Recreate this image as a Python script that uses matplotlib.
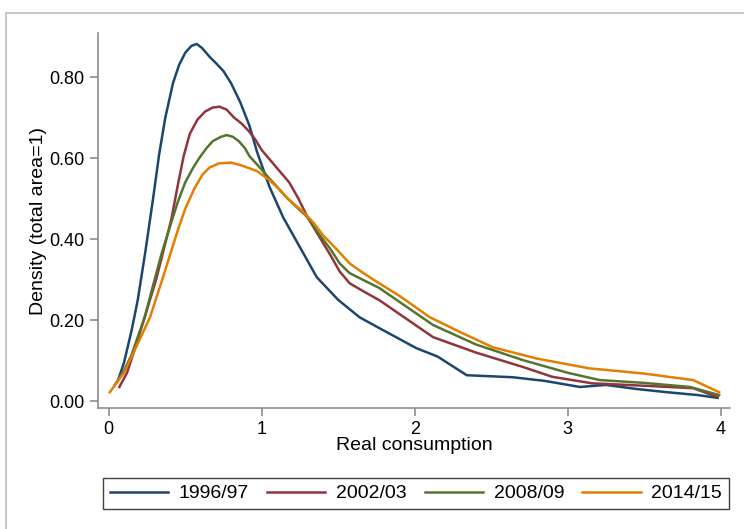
import matplotlib

matplotlib.use("Agg")
import matplotlib.pyplot as plt
from matplotlib.patches import Rectangle

plt.rcParams["font.family"] = ["Liberation Sans", "DejaVu Sans"]

labels = ["1996/97", "2002/03", "2008/09", "2014/15"]
colors = ["#1a476f", "#90353b", "#55752f", "#e37e00"]

x_9697 = [0.06, 0.10, 0.15, 0.19, 0.24, 0.29, 0.33, 0.37, 0.42, 0.46, 0.50, 0.54,
          0.575, 0.61, 0.66, 0.70, 0.75, 0.80, 0.86, 0.92, 0.97, 1.05, 1.14, 1.25,
          1.36, 1.50, 1.64, 1.77, 2.01, 2.15, 2.34, 2.64, 2.85, 3.08, 3.25, 3.45,
          3.65, 3.85, 3.98]
y_9697 = [0.05, 0.095, 0.175, 0.25, 0.37, 0.50, 0.61, 0.70, 0.785, 0.83, 0.86, 0.877,
          0.882, 0.872, 0.85, 0.835, 0.815, 0.785, 0.738, 0.68, 0.615, 0.53, 0.454, 0.38,
          0.306, 0.25, 0.207, 0.18, 0.131, 0.11, 0.064, 0.059, 0.05, 0.035, 0.04, 0.03,
          0.022, 0.015, 0.008]

x_0203 = [0.07, 0.12, 0.18, 0.235, 0.31, 0.37, 0.41, 0.45, 0.49, 0.53, 0.58, 0.63,
          0.68, 0.725, 0.77, 0.82, 0.87, 0.92, 0.96, 1.00, 1.09, 1.18, 1.24, 1.30,
          1.37, 1.45, 1.51, 1.575, 1.67, 1.77, 2.12, 2.40, 2.71, 2.90, 3.16, 3.50,
          3.82, 3.98]
y_0203 = [0.035, 0.07, 0.14, 0.207, 0.30, 0.39, 0.45, 0.53, 0.605, 0.66, 0.695, 0.715,
          0.725, 0.727, 0.72, 0.70, 0.685, 0.665, 0.645, 0.62, 0.58, 0.54, 0.50, 0.454,
          0.41, 0.36, 0.32, 0.291, 0.27, 0.249, 0.158, 0.12, 0.084, 0.06, 0.044, 0.038,
          0.032, 0.01]

x_0809 = [0.04, 0.10, 0.15, 0.235, 0.30, 0.35, 0.40, 0.45, 0.50, 0.55, 0.595, 0.64,
          0.68, 0.73, 0.77, 0.81, 0.85, 0.89, 0.92, 0.98, 1.05, 1.11, 1.17, 1.24,
          1.30, 1.37, 1.45, 1.51, 1.575, 1.67, 1.77, 2.12, 2.40, 2.71, 3.00, 3.21,
          3.50, 3.80, 3.99]
y_0809 = [0.04, 0.075, 0.115, 0.207, 0.30, 0.37, 0.43, 0.49, 0.54, 0.575, 0.602, 0.625,
          0.642, 0.652, 0.657, 0.653, 0.642, 0.625, 0.605, 0.58, 0.55, 0.525, 0.50, 0.475,
          0.454, 0.415, 0.375, 0.34, 0.316, 0.298, 0.279, 0.188, 0.14, 0.101, 0.07, 0.052,
          0.045, 0.035, 0.015]

x_1415 = [0.007, 0.10, 0.20, 0.27, 0.35, 0.40, 0.45, 0.50, 0.56, 0.614, 0.66, 0.72,
          0.80, 0.86, 0.92, 0.97, 1.05, 1.11, 1.17, 1.27, 1.34, 1.40, 1.49, 1.575,
          1.65, 1.73, 1.90, 2.10, 2.30, 2.51, 2.80, 3.14, 3.50, 3.82, 3.99]
y_1415 = [0.022, 0.07, 0.15, 0.207, 0.30, 0.36, 0.42, 0.475, 0.525, 0.56, 0.577, 0.587,
          0.589, 0.583, 0.575, 0.568, 0.546, 0.525, 0.50, 0.468, 0.44, 0.41, 0.375, 0.34,
          0.32, 0.30, 0.26, 0.207, 0.17, 0.133, 0.105, 0.081, 0.068, 0.052, 0.022]

series = [(x_9697, y_9697), (x_0203, y_0203), (x_0809, y_0809), (x_1415, y_1415)]

fig = plt.figure(figsize=(7.44, 5.29), dpi=100)
ax = fig.add_axes([0.1317, 0.2287, 0.8493, 0.7089])

for (xs, ys), lab, col in zip(series, labels, colors):
    ax.plot(xs, ys, color=col, linewidth=1.8, label=lab)

ax.set_xlim(-0.07, 4.06)
ax.set_ylim(-0.017, 0.909)
ax.set_xticks([0, 1, 2, 3, 4])
ax.set_yticks([0, 0.2, 0.4, 0.6, 0.8])
ax.set_yticklabels(["0.00", "0.20", "0.40", "0.60", "0.80"])
for s in ["top", "right"]:
    ax.spines[s].set_visible(False)
for s in ["left", "bottom"]:
    ax.spines[s].set_color("#8c8c8c")
    ax.spines[s].set_linewidth(1.2)
ax.tick_params(colors="#8c8c8c", labelcolor="black", length=6, width=1.2, labelsize=13)
ax.set_xlabel("Real consumption", fontsize=14, labelpad=-1)
ax.set_ylabel("Density (total area=1)", fontsize=14, labelpad=2)

fig.legend(loc="center", bbox_to_anchor=(0.559, 0.067), ncol=4, fontsize=14,
           handlelength=3.0, columnspacing=0.93, handletextpad=0.55,
           fancybox=False, edgecolor="#404040", framealpha=1, borderpad=0.35)

fig.patches.append(Rectangle((6 / 744, -0.1), 1.2, 1 - 13 / 529 + 0.1,
                             transform=fig.transFigure, fill=False,
                             edgecolor="#c8c8c8", linewidth=1.5))

plt.savefig("out.png", dpi=100)
plt.close()
